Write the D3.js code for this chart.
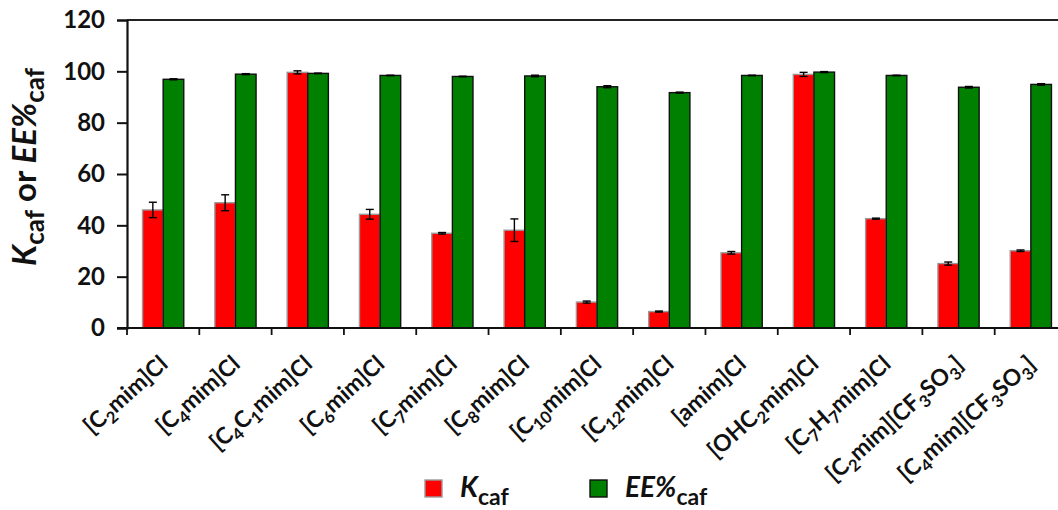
<!DOCTYPE html>
<html>
<head>
<meta charset="utf-8">
<script src="https://cdn.jsdelivr.net/npm/d3@7"></script>
<style>
  html, body { margin: 0; padding: 0; background: #fff; }
  svg { display: block; }
  svg text, svg tspan { font-family: Lato, "Open Sans", sans-serif; font-weight: 700; }
</style>
</head>
<body>
<svg id="chart" width="1058" height="510"></svg>
<script>
// Ionic liquids; "_n" marks a subscript
const categories = [
  "[C_2mim]Cl", "[C_4mim]Cl", "[C_4C_1mim]Cl", "[C_6mim]Cl", "[C_7mim]Cl",
  "[C_8mim]Cl", "[C_10mim]Cl", "[C_12mim]Cl", "[amim]Cl", "[OHC_2mim]Cl",
  "[C_7H_7mim]Cl", "[C_2mim][CF_3SO_3]", "[C_4mim][CF_3SO_3]"
];
const kcaf    = [46.0, 48.8, 99.6, 44.3, 36.9, 38.1, 10.1, 6.4, 29.3, 98.8, 42.6, 25.1, 30.1];
const kcafErr = [3.0, 3.1, 0.6, 1.9, 0.3, 4.4, 0.4, 0.2, 0.5, 0.8, 0.2, 0.6, 0.3];
const eecaf    = [96.9, 98.9, 99.2, 98.4, 98.0, 98.2, 94.0, 91.7, 98.4, 99.7, 98.4, 93.8, 94.9];
const eecafErr = [0.2, 0.2, 0.1, 0.1, 0.1, 0.3, 0.4, 0.2, 0.1, 0.2, 0.1, 0.3, 0.3];
const yTicks = [0, 20, 40, 60, 80, 100, 120];

const svg = d3.select("#chart");
const plotL = 127, plotR = 1067, plotT = 20, plotB = 328;

const x = d3.scaleBand().domain(categories).range([plotL, plotR]).paddingInner(0).paddingOuter(0);
const y = d3.scaleLinear().domain([0, 120]).range([plotB, plotT]);
const bw = x.bandwidth() * 0.285;
const cx = c => x(c) + x.bandwidth() / 2;

// Bars
const series = [
  { vals: kcaf, errs: kcafErr, fill: "#ff0000", stroke: "#9a9a9a", off: -1 },
  { vals: eecaf, errs: eecafErr, fill: "#008000", stroke: "#111", off: 0 }
];
series.forEach(s => {
  svg.append("g").selectAll("rect").data(categories).join("rect")
    .attr("x", c => cx(c) + s.off * bw)
    .attr("y", (c, i) => y(s.vals[i]))
    .attr("width", bw)
    .attr("height", (c, i) => y(0) - y(s.vals[i]))
    .attr("fill", s.fill)
    .attr("stroke", s.stroke)
    .attr("stroke-width", 1.4);
});

// Error bars
series.forEach(s => {
  const g = svg.append("g").attr("stroke", "#000").attr("stroke-width", 1.4);
  categories.forEach((c, i) => {
    const mx = cx(c) + s.off * bw + bw / 2;
    const y1 = y(s.vals[i] + s.errs[i]), y2 = y(s.vals[i] - s.errs[i]);
    g.append("line").attr("x1", mx).attr("x2", mx).attr("y1", y1).attr("y2", y2);
    [y1, y2].forEach(yy => g.append("line").attr("x1", mx - 4).attr("x2", mx + 4).attr("y1", yy).attr("y2", yy));
  });
});

// Top frame line
svg.append("line").attr("x1", plotL).attr("x2", plotR).attr("y1", plotT).attr("y2", plotT)
  .attr("stroke", "#222").attr("stroke-width", 1.8);

// Y axis
const yAxis = svg.append("g").attr("transform", `translate(${plotL},0)`)
  .call(d3.axisLeft(y).tickValues(yTicks).tickSize(10).tickPadding(12).tickFormat(d3.format("d")));
yAxis.select(".domain").attr("stroke", "#111").attr("stroke-width", 2.2);
yAxis.selectAll(".tick line").attr("stroke", "#111").attr("stroke-width", 2);
yAxis.selectAll("text").attr("font-size", 24).attr("fill", "#111");

// X axis (ticks at category boundaries)
const xLine = svg.append("g");
xLine.append("line").attr("x1", plotL - 10).attr("x2", plotR).attr("y1", plotB).attr("y2", plotB)
  .attr("stroke", "#111").attr("stroke-width", 2.2);
xLine.selectAll("line.t").data(categories).join("line").attr("class", "t")
  .attr("x1", c => x(c)).attr("x2", c => x(c)).attr("y1", plotB).attr("y2", plotB + 7)
  .attr("stroke", "#111").attr("stroke-width", 1.8);

// Rich text helper: "_n" → subscript
function addRich(textSel, str, size) {
  const parts = str.split(/_(\d+)/);
  let sub = false;
  parts.forEach((p, i) => {
    if (!p) return;
    const isSub = i % 2 === 1;
    const t = textSel.append("tspan").text(p);
    if (isSub && !sub) { t.attr("dy", size * 0.25).attr("font-size", size * 0.72); sub = true; }
    else if (isSub) { t.attr("font-size", size * 0.72); }
    else if (sub) { t.attr("dy", -size * 0.25); sub = false; }
  });
}

// X labels
const lblSize = 23;
categories.forEach(c => {
  const t = svg.append("text")
    .attr("transform", `translate(${cx(c) + 6},${plotB + 38}) rotate(-42)`)
    .attr("text-anchor", "end")
    .attr("font-size", lblSize)
    .attr("fill", "#111");
  addRich(t, c, lblSize);
});

// Y-axis title
const ttl = svg.append("text")
  .attr("transform", "translate(36,167) rotate(-90)")
  .attr("text-anchor", "middle")
  .attr("font-size", 33)
  .attr("fill", "#111");
ttl.append("tspan").text("K").attr("font-style", "italic");
ttl.append("tspan").text("caf").attr("font-size", 26).attr("dy", 8);
ttl.append("tspan").text(" or ").attr("dy", -8);
ttl.append("tspan").text("EE%").attr("font-style", "italic");
ttl.append("tspan").text("caf").attr("font-size", 26).attr("dy", 8);

// Legend
const legend = [
  { label: "K", x: 425, fill: "#ff0000", stroke: "#9a9a9a" },
  { label: "EE%", x: 590, fill: "#008000", stroke: "#111" }
];
legend.forEach(l => {
  svg.append("rect").attr("x", l.x).attr("y", 480).attr("width", 17).attr("height", 17)
    .attr("fill", l.fill).attr("stroke", l.stroke).attr("stroke-width", 1.4);
  const t = svg.append("text").attr("x", l.x + 35).attr("y", 497).attr("font-size", 28).attr("fill", "#111");
  t.append("tspan").text(l.label).attr("font-style", "italic");
  t.append("tspan").text("caf").attr("font-size", 23).attr("dy", 8);
});
</script>
</body>
</html>
